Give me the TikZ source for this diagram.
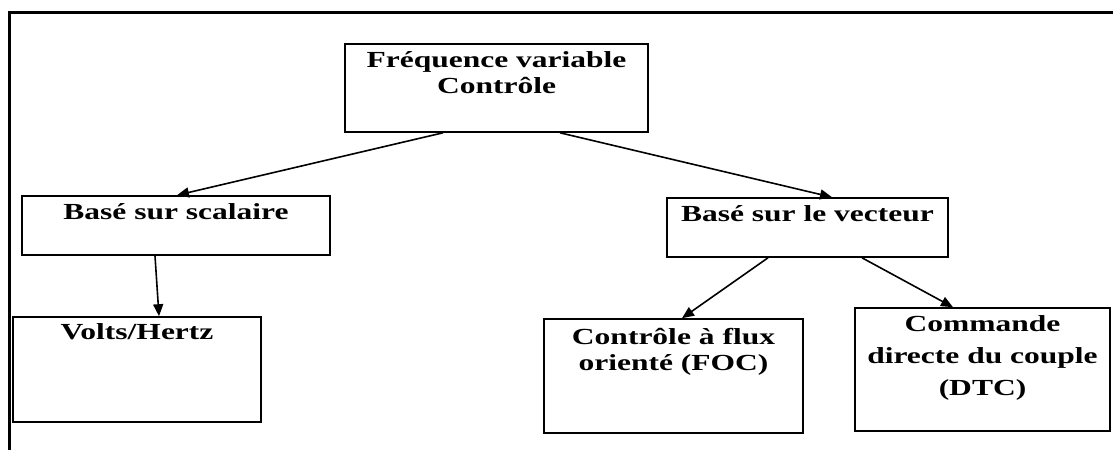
\documentclass[tikz,border=0pt]{standalone}
\usepackage{fontspec}
\setmainfont{Liberation Serif}[FakeStretch=1.37]
\usepackage{tikz}
\usetikzlibrary{arrows.meta,positioning}
\usepackage{xcolor}

\begin{document}
\begin{tikzpicture}[x=0.5pt, y=-0.5pt,
    box/.style={draw, line width=0.8pt, inner sep=0pt},
    txt/.style={anchor=base, align=center, inner sep=0pt, font=\fontsize{11.5}{13}\selectfont\bfseries},
    arr/.style={line width=0.8pt, -{Triangle[length=6pt,width=5pt]}}]
            \useasboundingbox (0,0) rectangle (1113,450);
            \draw[line width=1.5pt] (1113,12) -- (9,12) -- (9,450);

            \node[box, minimum width=151.5pt, minimum height=44pt] (freq) at (496.5,88) {};
            \node[box, minimum width=154pt, minimum height=29.5pt] (scal) at (176,225.5) {};
            \node[box, minimum width=140.5pt, minimum height=29.5pt] (vect) at (807.5,227.5) {};
            \node[box, minimum width=124pt, minimum height=52.5pt] (volts) at (137,369.5) {};
            \node[box, minimum width=129.5pt, minimum height=57pt] (foc) at (673.5,376) {};
            \node[box, minimum width=127.5pt, minimum height=61.5pt] (dtc) at (982.5,369.5) {};

            \node[txt] (freq-t) at ([yshift=-25pt]freq.north) {Fréquence variable\\Contrôle};
            \node[txt] (scal-t) at ([yshift=-12pt]scal.north) {Basé sur scalaire};
            \node[txt] (vect-t) at ([yshift=-12pt]vect.north) {Basé sur le vecteur};
            \node[txt] (volts-t) at ([yshift=-11.5pt]volts.north) {Volts/Hertz};
            \node[txt] (foc-t) at ([yshift=-26pt]foc.north) {Contrôle à flux\\orienté (FOC)};
            \node[txt, font=\fontsize{11.5}{16}\selectfont\bfseries] (dtc-t) at ([yshift=-44pt]dtc.north) {Commande\\directe du couple\\(DTC)};

            \draw[arr] ([xshift=-26.75pt]freq.south) -- ([xshift=0.5pt]scal.north);
            \draw[arr] ([xshift=31.75pt]freq.south) -- ([xshift=12.25pt]vect.north);
            \draw[arr] ([xshift=-10.5pt]scal.south) -- ([xshift=11pt]volts.north);
            \draw[arr] ([xshift=-19.75pt]vect.south) -- ([xshift=4.25pt]foc.north);
            \draw[arr] ([xshift=27.25pt]vect.south) -- ([xshift=-14.75pt]dtc.north);
        \end{tikzpicture}
\end{document}
